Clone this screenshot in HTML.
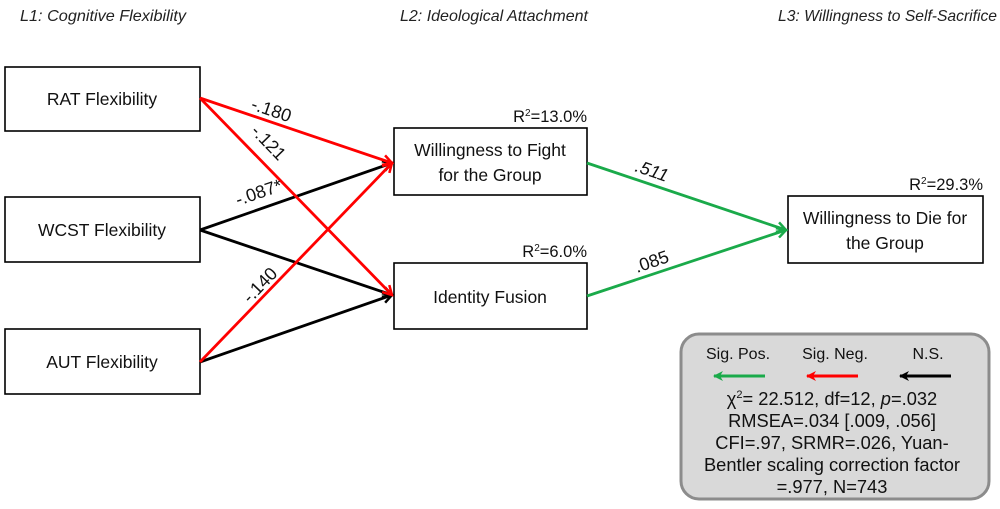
<!DOCTYPE html>
<html><head><meta charset="utf-8"><style>
html,body{margin:0;padding:0;background:#fff;}
svg{display:block;font-family:"Liberation Sans",Arial,sans-serif;}
</style></head><body>
<svg width="1000" height="509" viewBox="0 0 1000 509">
<defs>
<marker id="r" markerWidth="12" markerHeight="12" refX="10" refY="6" orient="auto" markerUnits="userSpaceOnUse"><path d="M1,1 L10,6 L1,11" fill="none" stroke="#f00" stroke-width="2.5"/></marker>
<marker id="k" markerWidth="12" markerHeight="12" refX="10" refY="6" orient="auto" markerUnits="userSpaceOnUse"><path d="M1,1 L10,6 L1,11" fill="none" stroke="#000" stroke-width="2.5"/></marker>
<marker id="g" markerWidth="12" markerHeight="12" refX="10" refY="6" orient="auto" markerUnits="userSpaceOnUse"><path d="M1,1 L10,6 L1,11" fill="none" stroke="#1aaa4a" stroke-width="2.5"/></marker>
<marker id="gf" markerWidth="12" markerHeight="12" refX="9" refY="5" orient="auto" markerUnits="userSpaceOnUse"><path d="M0,0 L10,5 L0,10 L3,5Z" fill="#1aaa4a"/></marker>
<marker id="rf" markerWidth="12" markerHeight="12" refX="9" refY="5" orient="auto" markerUnits="userSpaceOnUse"><path d="M0,0 L10,5 L0,10 L3,5Z" fill="#f00"/></marker>
<marker id="kf" markerWidth="12" markerHeight="12" refX="9" refY="5" orient="auto" markerUnits="userSpaceOnUse"><path d="M0,0 L10,5 L0,10 L3,5Z" fill="#000"/></marker>
</defs>
<g font-style="italic" font-size="16" fill="#222">
<text x="20" y="21" textLength="166" lengthAdjust="spacingAndGlyphs">L1: Cognitive Flexibility</text>
<text x="400" y="21" textLength="188" lengthAdjust="spacingAndGlyphs">L2: Ideological Attachment</text>
<text x="778" y="21" textLength="219" lengthAdjust="spacingAndGlyphs">L3: Willingness to Self-Sacrifice</text>
</g>
<g fill="#fff" stroke="#000" stroke-width="1.6">
<rect x="5" y="67" width="195" height="64"/>
<rect x="5" y="197" width="195" height="65"/>
<rect x="5" y="329" width="195" height="65"/>
<rect x="394" y="128" width="193" height="67"/>
<rect x="394" y="263" width="193" height="66"/>
<rect x="788" y="196" width="195" height="67"/>
</g>
<g font-size="17.5" fill="#111" text-anchor="middle">
<text x="102" y="105">RAT Flexibility</text>
<text x="102" y="236">WCST Flexibility</text>
<text x="102" y="368">AUT Flexibility</text>
<text x="490" y="156">Willingness to Fight</text>
<text x="490" y="181">for the Group</text>
<text x="490" y="303">Identity Fusion</text>
<text x="885" y="224">Willingness to Die for</text>
<text x="885" y="249">the Group</text>
</g>
<g font-size="16.5" fill="#111" text-anchor="end">
<text x="587" y="122">R<tspan font-size="10" dy="-6">2</tspan><tspan dy="6">=13.0%</tspan></text>
<text x="587" y="257">R<tspan font-size="10" dy="-6">2</tspan><tspan dy="6">=6.0%</tspan></text>
<text x="983" y="190">R<tspan font-size="10" dy="-6">2</tspan><tspan dy="6">=29.3%</tspan></text>
</g>
<g stroke-width="2.8" fill="none">
<line x1="200" y1="230" x2="392" y2="163" stroke="#000" marker-end="url(#k)"/>
<line x1="200" y1="230" x2="392" y2="295" stroke="#000" marker-end="url(#k)"/>
<line x1="200" y1="362" x2="392" y2="295" stroke="#000" marker-end="url(#k)"/>
<line x1="200" y1="98" x2="392" y2="163" stroke="#f00" marker-end="url(#r)"/>
<line x1="200" y1="98" x2="392" y2="295" stroke="#f00" marker-end="url(#r)"/>
<line x1="200" y1="362" x2="392" y2="163" stroke="#f00" marker-end="url(#r)"/>
<line x1="587" y1="163" x2="786" y2="230" stroke="#1aaa4a" marker-end="url(#g)"/>
<line x1="587" y1="296" x2="786" y2="230" stroke="#1aaa4a" marker-end="url(#g)"/>
</g>
<g font-size="18" fill="#111">
<text transform="translate(250,109) rotate(19)">-.180</text>
<text transform="translate(250,132) rotate(46)">-.121</text>
<text transform="translate(238,206) rotate(-19)">-.087*</text>
<text transform="translate(250,304) rotate(-46)">-.140</text>
<text transform="translate(634,171) rotate(19)" font-style="italic">.511</text>
<text transform="translate(637,273) rotate(-19)">.085</text>
</g>
<rect x="681" y="334" width="308" height="165" rx="18" fill="#d9d9d9" stroke="#8c8c8c" stroke-width="3"/>
<g font-size="16" fill="#111" text-anchor="middle">
<text x="738" y="359">Sig. Pos.</text>
<text x="835" y="359">Sig. Neg.</text>
<text x="928" y="359">N.S.</text>
</g>
<g stroke-width="3">
<line x1="765" y1="376" x2="714" y2="376" stroke="#1aaa4a" marker-end="url(#gf)"/>
<line x1="858" y1="376" x2="807" y2="376" stroke="#f00" marker-end="url(#rf)"/>
<line x1="951" y1="376" x2="900" y2="376" stroke="#000" marker-end="url(#kf)"/>
</g>
<g font-size="18.3" fill="#111" text-anchor="middle">
<text x="832" y="405">χ<tspan font-size="11" dy="-7">2</tspan><tspan dy="7">= 22.512, df=12, </tspan><tspan font-style="italic">p</tspan>=.032</text>
<text x="832" y="427">RMSEA=.034 [.009, .056]</text>
<text x="832" y="449">CFI=.97, SRMR=.026, Yuan-</text>
<text x="832" y="471">Bentler scaling correction factor</text>
<text x="832" y="493">=.977, N=743</text>
</g>
</svg>
</body></html>
